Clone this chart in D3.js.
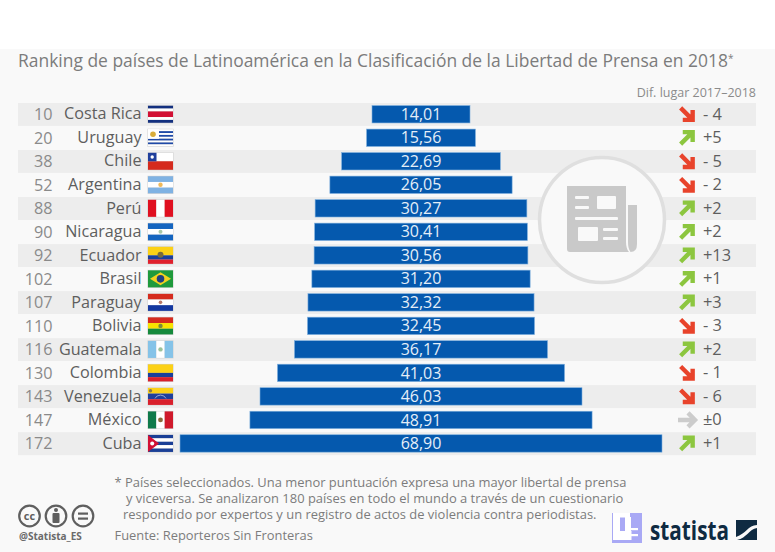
<!DOCTYPE html>
<html>
<head>
<meta charset="utf-8">
<script src="https://cdn.jsdelivr.net/npm/d3@7/dist/d3.min.js"></script>
<style>
  html, body { margin: 0; padding: 0; background: #fff; }
  svg { display: block; }
  text { font-family: "Open Sans", sans-serif; }
</style>
</head>
<body>
<svg id="chart" width="775" height="552"></svg>
<script>
// Data
var countries = ["Costa Rica", "Uruguay", "Chile", "Argentina", "Perú", "Nicaragua", "Ecuador", "Brasil", "Paraguay", "Bolivia", "Guatemala", "Colombia", "Venezuela", "México", "Cuba"];
var ranks = [10, 20, 38, 52, 88, 90, 92, 102, 107, 110, 116, 130, 143, 147, 172];
var scores = [14.01, 15.56, 22.69, 26.05, 30.27, 30.41, 30.56, 31.20, 32.32, 32.45, 36.17, 41.03, 46.03, 48.91, 68.90];
var changes = ["- 4", "+5", "- 5", "- 2", "+2", "+2", "+13", "+1", "+3", "- 3", "+2", "- 1", "- 6", "±0", "+1"];
var titleText = "Ranking de países de Latinoamérica en la Clasificación de la Libertad de Prensa en 2018";
var diffHeader = "Dif. lugar 2017–2018";
var noteLines = [
    "* Países seleccionados. Una menor puntuación expresa una mayor libertal de prensa",
    "y viceversa. Se analizaron 180 países en todo el mundo a través de un cuestionario",
    "respondido por expertos y un registro de actos de violencia contra periodistas."
];
var sourceText = "Fuente: Reporteros Sin Fronteras";

// Horizontal and vertical flag stripes, as colour lists with relative weights
var flagStripes = {
    "Costa Rica": ["h", ["#13307f", 1], ["#fff", 1], ["#d21034", 2], ["#fff", 1], ["#13307f", 1]],
    "Uruguay": ["h", ["#fff", 1], ["#1f4aa8", 1], ["#fff", 1], ["#1f4aa8", 1], ["#fff", 1], ["#1f4aa8", 1], ["#fff", 1], ["#1f4aa8", 1], ["#fff", 1]],
    "Chile": ["h", ["#fff", 1], ["#d52b1e", 1]],
    "Argentina": ["h", ["#7fb2e3", 1], ["#fff", 1], ["#7fb2e3", 1]],
    "Perú": ["v", ["#e01020", 1], ["#fff", 1], ["#e01020", 1]],
    "Nicaragua": ["h", ["#1565c0", 1], ["#fff", 1], ["#1565c0", 1]],
    "Ecuador": ["h", ["#fcd116", 2], ["#1a3f9c", 1], ["#e0202c", 1]],
    "Brasil": ["h", ["#1f9a3c", 1]],
    "Paraguay": ["h", ["#d52b1e", 1], ["#fff", 1], ["#1438a0", 1]],
    "Bolivia": ["h", ["#d52b1e", 1], ["#f9e300", 1], ["#168a3c", 1]],
    "Guatemala": ["v", ["#85c3e8", 1], ["#fff", 1], ["#85c3e8", 1]],
    "Colombia": ["h", ["#fcd116", 2], ["#1a3f9c", 1], ["#d9202c", 1]],
    "Venezuela": ["h", ["#fcd116", 1], ["#1f3f9c", 1], ["#d9202c", 1]],
    "México": ["v", ["#0f7a4a", 1], ["#fff", 1], ["#d01a2c", 1]],
    "Cuba": ["h", ["#1a3f96", 1], ["#fff", 1], ["#1a3f96", 1], ["#fff", 1], ["#1a3f96", 1]]
};

var svg = d3.select("#chart");
var comma = d3.formatLocale({ decimal: ",", thousands: ".", grouping: [3], currency: ["", ""] }).format(".2f");

// Scales
var maxScore = d3.max(scores);
var x = d3.scaleLinear().domain([-maxScore / 2, maxScore / 2]).range([180, 662]);
var y = d3.scaleBand().domain(countries).range([102.5, 455.2]);
var rowMid = function(d) { return y(d) + y.bandwidth() / 2; };

var rows = countries.map(function(c, i) {
    return { country: c, rank: ranks[i], score: scores[i], change: changes[i], index: i };
});

// Page background below the white strip
svg.append("rect").attr("width", 775).attr("height", 552).attr("fill", "#fff");
svg.append("rect").attr("y", 49).attr("width", 775).attr("height", 503).attr("fill", "#f9f9f9");

// Title
var title = svg.append("text")
    .attr("x", 18).attr("y", 67)
    .attr("font-size", 17.45).attr("fill", "#7c7c7c")
    .text(titleText);
title.append("tspan").attr("font-size", 10).attr("dy", -5).text("*");

svg.append("text")
    .attr("x", 756).attr("y", 97)
    .attr("text-anchor", "end")
    .attr("font-size", 12.5).attr("fill", "#8b8b8b")
    .text(diffHeader);

// Alternating row bands
svg.append("g").selectAll("rect")
    .data(rows.filter(function(d) { return d.index % 2 === 0; }))
    .enter().append("rect")
    .attr("x", 18).attr("width", 738)
    .attr("y", function(d) { return y(d.country) + 0.5; })
    .attr("height", y.bandwidth() - 0.6)
    .attr("fill", "#ededed");

// Newspaper badge sits behind the bars
var badge = svg.append("g").attr("transform", "translate(602,220)");
badge.append("circle").attr("r", 62.5).attr("fill", "#f9f9f9").attr("stroke", "#dfdfdf").attr("stroke-width", 3.5);
badge.append("path").attr("fill", "#c9c9c9")
    .attr("d", "M-35,-34H24V22C24,26 25,30 27,32H-32Q-35,32 -35,29Z M26,-15H35V24Q35,32 28.5,32C26.5,29 26,26 26,22Z");
badge.selectAll("rect.cut")
    .data([[-27, -24, 14, 3], [-27, -14, 14, 3], [-5, -24, 19, 13], [-27, -3, 43, 3], [-24, 7, 20, 14], [1, 8, 15, 3], [1, 17, 15, 3]])
    .enter().append("rect").attr("class", "cut")
    .attr("x", function(d) { return d[0]; }).attr("y", function(d) { return d[1]; })
    .attr("width", function(d) { return d[2]; }).attr("height", function(d) { return d[3]; })
    .attr("rx", 1).attr("fill", "#f9f9f9");

// Bars
var barHeight = 17.4;
svg.append("g").selectAll("rect")
    .data(rows)
    .enter().append("rect")
    .attr("x", function(d) { return x(-d.score / 2); })
    .attr("width", function(d) { return x(d.score / 2) - x(-d.score / 2); })
    .attr("y", function(d) { return rowMid(d.country) - barHeight / 2; })
    .attr("height", barHeight)
    .attr("fill", "#0559ae")
    .attr("stroke", "#7fb0de")
    .attr("stroke-width", 0.6);

svg.append("g").selectAll("text")
    .data(rows)
    .enter().append("text")
    .attr("x", x(0))
    .attr("y", function(d) { return rowMid(d.country) + 5.6; })
    .attr("text-anchor", "middle")
    .attr("font-size", 16).attr("fill", "#e4eef8")
    .text(function(d) { return comma(d.score); });

// Rank and country labels
svg.append("g").selectAll("text")
    .data(rows)
    .enter().append("text")
    .attr("x", 52.5)
    .attr("y", function(d) { return rowMid(d.country) + 5.8; })
    .attr("text-anchor", "end")
    .attr("font-size", 16.2).attr("fill", "#8a8a8a")
    .text(function(d) { return d.rank; });

svg.append("g").selectAll("text")
    .data(rows)
    .enter().append("text")
    .attr("x", 141.5)
    .attr("y", function(d) { return rowMid(d.country) + 5.2; })
    .attr("text-anchor", "end")
    .attr("font-size", 16.2).attr("fill", "#5e5e5e")
    .text(function(d) { return d.country; });

// Flags
var flagW = 25, flagH = 17;
var flags = svg.append("g").selectAll("g")
    .data(rows)
    .enter().append("g")
    .attr("transform", function(d) { return "translate(148," + (rowMid(d.country) - flagH / 2) + ")"; });

flags.each(function(d) {
    var g = d3.select(this), spec = flagStripes[d.country], dir = spec[0], bands = spec.slice(1);
    var total = d3.sum(bands, function(b) { return b[1]; }), pos = 0;
    g.append("rect").attr("x", -0.5).attr("y", -0.5).attr("width", flagW + 1).attr("height", flagH + 1).attr("fill", "#d0d0d0");
    bands.forEach(function(b) {
        var size = (dir === "h" ? flagH : flagW) * b[1] / total;
        g.append("rect")
            .attr("x", dir === "h" ? 0 : pos).attr("y", dir === "h" ? pos : 0)
            .attr("width", dir === "h" ? flagW : size).attr("height", dir === "h" ? size : flagH)
            .attr("fill", b[0]);
        pos += size;
    });
    // Details that stripes cannot show
    if (d.country === "Uruguay") {
        g.append("rect").attr("width", 11).attr("height", 9.5).attr("fill", "#fff");
        g.append("circle").attr("cx", 5).attr("cy", 5).attr("r", 2.8).attr("fill", "#d9ad3a");
    } else if (d.country === "Chile") {
        g.append("rect").attr("width", 8.5).attr("height", 8.5).attr("fill", "#1f3f9c");
        g.append("circle").attr("cx", 4.2).attr("cy", 4.2).attr("r", 1.7).attr("fill", "#fff");
    } else if (d.country === "Argentina") {
        g.append("circle").attr("cx", 12.5).attr("cy", 8.5).attr("r", 2.2).attr("fill", "#f0b95a");
    } else if (d.country === "Nicaragua") {
        g.append("circle").attr("cx", 12.5).attr("cy", 8.5).attr("r", 2).attr("fill", "#a8c8a8");
    } else if (d.country === "Ecuador") {
        g.append("circle").attr("cx", 12.5).attr("cy", 8).attr("r", 3).attr("fill", "#7a6a3a");
    } else if (d.country === "Brasil") {
        g.append("path").attr("d", "M12.5,2L23,8.5L12.5,15L2,8.5Z").attr("fill", "#f2d21f");
        g.append("circle").attr("cx", 12.5).attr("cy", 8.5).attr("r", 3.8).attr("fill", "#22407f");
    } else if (d.country === "Paraguay") {
        g.append("circle").attr("cx", 12.5).attr("cy", 8.5).attr("r", 1.8).attr("fill", "#b87a6a");
    } else if (d.country === "Bolivia") {
        g.append("circle").attr("cx", 12.5).attr("cy", 8.5).attr("r", 2.2).attr("fill", "#7a8a3a");
    } else if (d.country === "Guatemala") {
        g.append("circle").attr("cx", 12.5).attr("cy", 8.5).attr("r", 2.2).attr("fill", "#9cc29a");
    } else if (d.country === "Venezuela") {
        g.append("circle").attr("cx", 2.5).attr("cy", 2.8).attr("r", 1.7).attr("fill", "#8a7a4a");
        g.append("path").attr("d", "M7,10.5A6,5.5 0 0 1 18,10.5").attr("fill", "none").attr("stroke", "#c9d4ee").attr("stroke-width", 0.7);
    } else if (d.country === "México") {
        g.append("circle").attr("cx", 12.5).attr("cy", 8.5).attr("r", 2.4).attr("fill", "#8a6a3a");
    } else if (d.country === "Cuba") {
        g.append("path").attr("d", "M0,0L11,8.5L0,17Z").attr("fill", "#d21034");
        g.append("circle").attr("cx", 4.2).attr("cy", 8.5).attr("r", 2).attr("fill", "#fff");
    }
});

// Change arrows, direction and colour follow the sign of the change
var arrows = svg.append("g").selectAll("g")
    .data(rows)
    .enter().append("g")
    .attr("transform", function(d) {
        var rot = d.change.charAt(0) === "+" ? -45 : (d.change.charAt(0) === "-" ? 45 : 0);
        return "translate(687," + rowMid(d.country) + ") rotate(" + rot + ")";
    });
arrows.append("path")
    .attr("d", "M-9,0H8 M1,-7L8,0L1,7")
    .attr("fill", "none")
    .attr("stroke-width", 4.4)
    .attr("stroke", function(d) {
        var c = d.change.charAt(0);
        return c === "+" ? "#8cc63f" : (c === "-" ? "#e8432b" : "#cccccc");
    });

svg.append("g").selectAll("text")
    .data(rows)
    .enter().append("text")
    .attr("x", 703)
    .attr("y", function(d) { return rowMid(d.country) + 5.4; })
    .attr("font-size", 16.4).attr("fill", "#5e5e5e")
    .text(function(d) { return d.change; });

// Footnote
var noteX = [114.5, 126, 123], noteY = [487, 503, 519];
svg.append("g").selectAll("text")
    .data(noteLines)
    .enter().append("text")
    .attr("x", function(d, i) { return noteX[i]; })
    .attr("y", function(d, i) { return noteY[i]; })
    .attr("font-size", 12.95).attr("fill", "#7c7c7c")
    .text(function(d) { return d; });

svg.append("text")
    .attr("x", 114.5).attr("y", 540)
    .attr("font-size", 12.9).attr("fill", "#7c7c7c")
    .text(sourceText);

// Licence badges
var ccGroup = svg.append("g").attr("fill", "none").attr("stroke", "#5f5f5f").attr("stroke-width", 2.2);
[29.5, 56, 83].forEach(function(cx) {
    ccGroup.append("circle").attr("cx", cx).attr("cy", 516).attr("r", 10.3);
});
svg.append("text").attr("x", 29.5).attr("y", 520).attr("text-anchor", "middle")
    .attr("font-size", 11).attr("font-weight", 700).attr("fill", "#5f5f5f").text("cc");
svg.append("circle").attr("cx", 56).attr("cy", 510).attr("r", 2).attr("fill", "#5f5f5f");
svg.append("rect").attr("x", 52.5).attr("y", 513).attr("width", 7).attr("height", 10).attr("rx", 1).attr("fill", "#5f5f5f");
svg.append("rect").attr("x", 78).attr("y", 512.5).attr("width", 10).attr("height", 2.2).attr("fill", "#5f5f5f");
svg.append("rect").attr("x", 78).attr("y", 517.5).attr("width", 10).attr("height", 2.2).attr("fill", "#5f5f5f");
svg.append("text").attr("x", 19).attr("y", 540)
    .attr("font-size", 10).attr("font-weight", 700).attr("fill", "#6a6a6a").text("@Statista_ES");

// Statista logo
svg.append("rect").attr("x", 612).attr("y", 513).attr("width", 30).attr("height", 30).attr("fill", "#a9a9f5");
svg.append("g").attr("fill", "#fff").selectAll("rect")
    .data([[613, 513, 17, 4.5], [613, 517, 7, 23], [625, 517, 6, 14], [613, 531, 18.5, 9], [631, 528, 7, 2.2], [631, 534, 7, 2.2]])
    .enter().append("rect")
    .attr("x", function(d) { return d[0]; }).attr("y", function(d) { return d[1]; })
    .attr("width", function(d) { return d[2]; }).attr("height", function(d) { return d[3]; });
svg.append("text")
    .attr("x", 650).attr("y", 540)
    .attr("font-size", 27).attr("font-weight", 700).attr("fill", "#0f2b42")
    .attr("textLength", 79).attr("lengthAdjust", "spacingAndGlyphs")
    .text("statista");
svg.append("path").attr("fill", "#0f2b42")
    .attr("d", "M736,520H757V525C748,525 746,534 736,537Z M757,528V540H737C747,538 749,529 757,528Z");
</script>
</body>
</html>
